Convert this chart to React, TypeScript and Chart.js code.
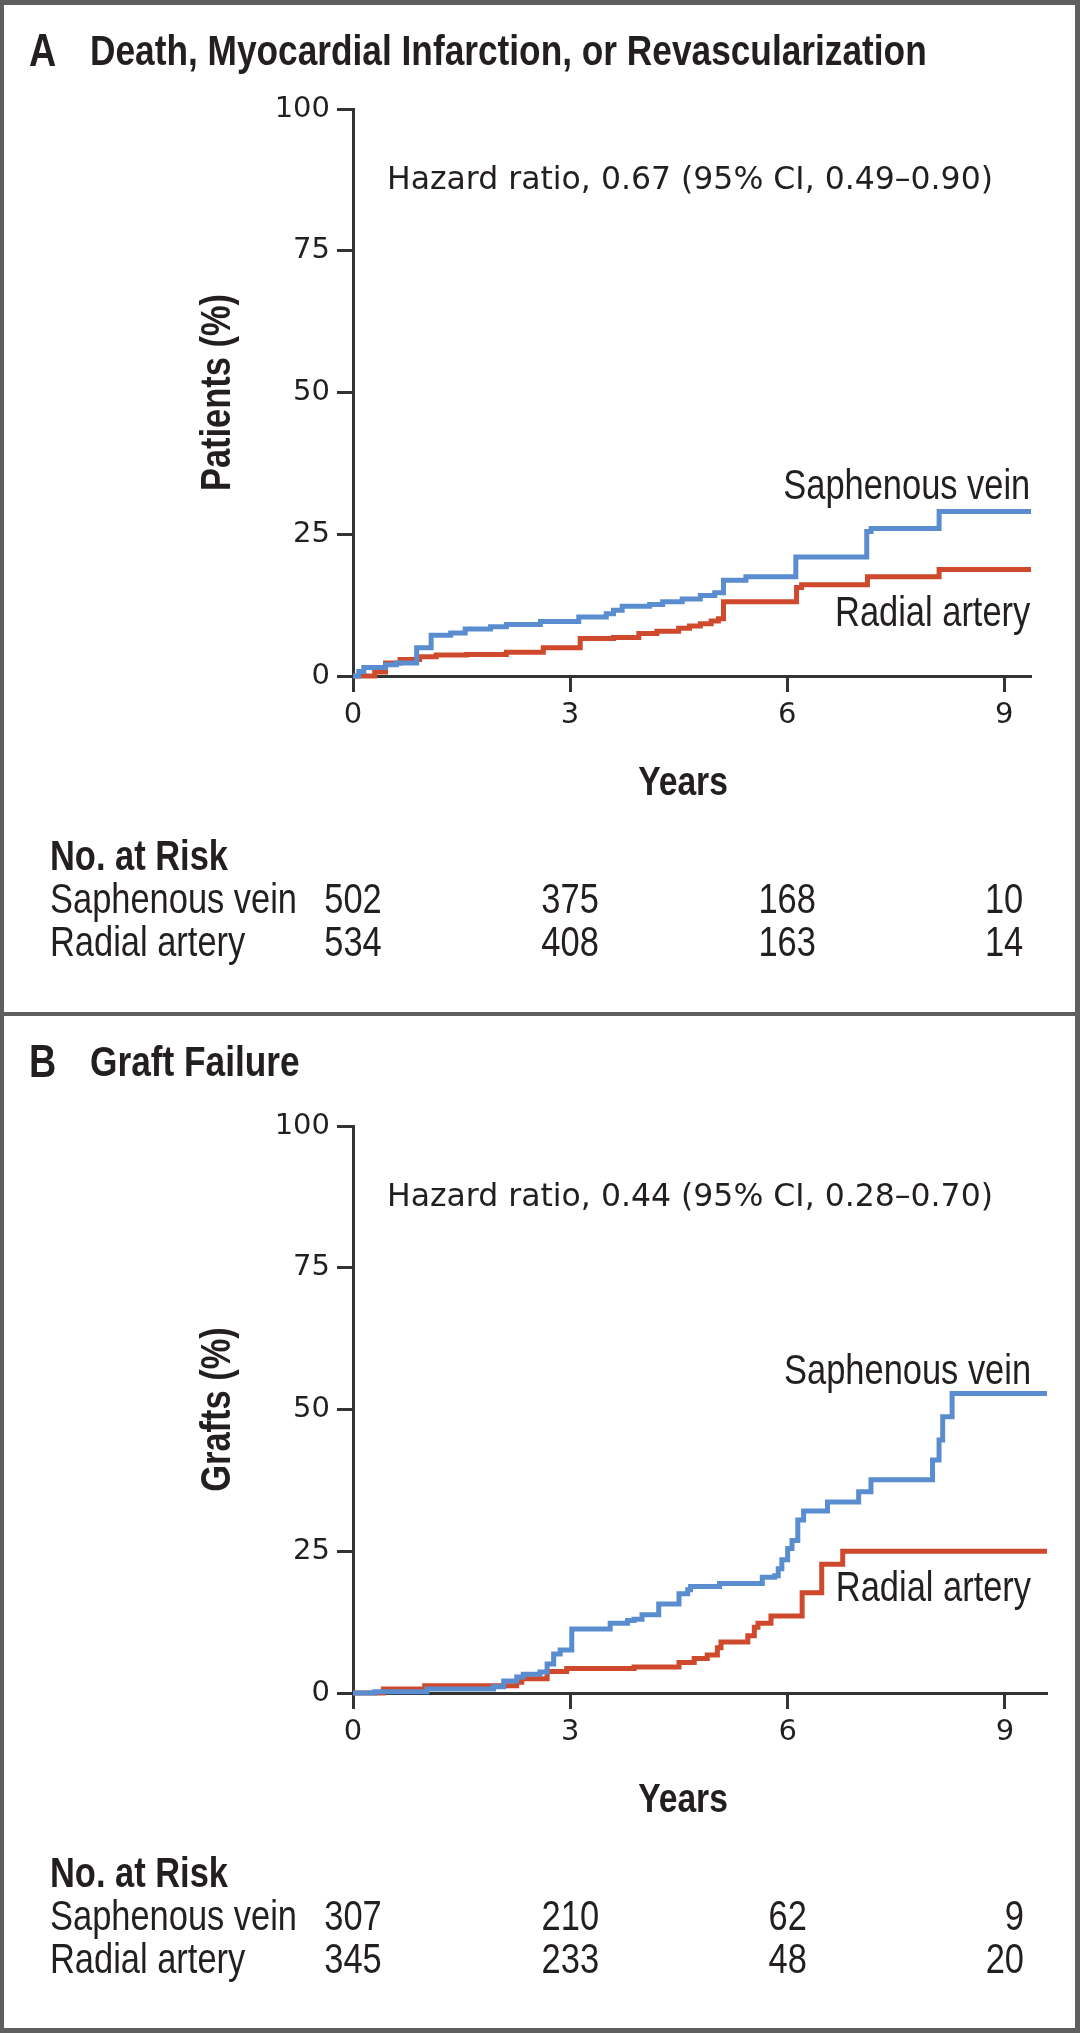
import React, { useEffect, useRef } from "react";
import { Chart, registerables } from "chart.js";

Chart.register(...registerables);

// ---------------- data ----------------
const xTicks = [0, 3, 6, 9];
const yTicks = [0, 25, 50, 75, 100];

// Panel A: death, MI, or revascularization (cumulative %)
const aSaphenousTimes = [0, 0.08, 0.15, 0.45, 0.6, 0.88, 1.08, 1.35, 1.55, 1.9, 2.12, 2.59, 3.12, 3.5, 3.6, 3.72, 4.1, 4.28, 4.55, 4.8, 5.0, 5.12, 5.43, 6.12, 7.1, 7.16, 8.1, 9.37];
const aSaphenousValues = [0, 0.8, 1.5, 2.0, 2.3, 5.0, 7.2, 7.6, 8.3, 8.7, 9.1, 9.6, 10.4, 11.0, 11.6, 12.3, 12.6, 13.1, 13.6, 14.2, 14.7, 16.9, 17.5, 21.0, 25.5, 26.0, 29.0, 29.0];
const aRadialTimes = [0, 0.3, 0.45, 0.65, 0.92, 1.15, 1.57, 2.12, 2.63, 3.14, 3.6, 3.95, 4.2, 4.5, 4.65, 4.8, 4.95, 5.05, 5.12, 6.13, 6.2, 7.11, 8.1, 9.37];
const aRadialValues = [0, 0.7, 2.3, 2.9, 3.4, 3.7, 3.8, 4.2, 5.0, 6.6, 6.8, 7.5, 7.9, 8.4, 8.8, 9.2, 9.7, 10.1, 13.1, 15.6, 16.1, 17.5, 18.8, 18.8];

// Panel B: graft failure (cumulative %)
const bSaphenousTimes = [0, 0.3, 1.02, 1.94, 2.08, 2.26, 2.35, 2.58, 2.68, 2.77, 2.86, 3.02, 3.55, 3.79, 3.88, 3.99, 4.22, 4.5, 4.62, 4.66, 5.06, 5.65, 5.82, 5.87, 5.92, 6.0, 6.06, 6.14, 6.22, 6.55, 6.98, 7.15, 8.0, 8.09, 8.14, 8.27, 9.58];
const bSaphenousValues = [0, 0.2, 0.7, 1.1, 2.1, 2.8, 3.3, 3.7, 5.1, 6.9, 7.6, 11.3, 12.3, 12.8, 13.0, 13.8, 15.7, 17.5, 18.2, 18.8, 19.3, 20.4, 20.7, 21.9, 23.5, 25.5, 26.9, 30.5, 32.1, 33.7, 35.5, 37.6, 41.1, 44.6, 48.7, 52.8, 52.8];
const bRadialTimes = [0, 0.42, 0.99, 2.26, 2.33, 2.68, 2.95, 3.88, 4.5, 4.71, 4.89, 5.03, 5.08, 5.45, 5.54, 5.59, 5.77, 6.2, 6.47, 6.76, 9.58];
const bRadialValues = [0, 0.7, 1.3, 1.9, 2.5, 3.8, 4.3, 4.6, 5.4, 6.1, 6.7, 8.0, 9.0, 10.1, 11.6, 12.3, 13.6, 17.7, 22.7, 25.0, 25.0];

// numbers at risk (at years 0, 3, 6, 9)
const aRiskSaphenous = ["502", "375", "168", "10"];
const aRiskRadial = ["534", "408", "163", "14"];
const bRiskSaphenous = ["307", "210", "62", "9"];
const bRiskRadial = ["345", "233", "48", "20"];

const seriesNames = ["Saphenous vein", "Radial artery"];

// ---------------- styles ----------------
const BLUE = "#5a8dcf";
const RED = "#cf4a2d";
const AXIS = "#333333";
const TXT = "#231f20";
const FRAME = "#5f5f5f";
const CONDENSED = 0.82;
const CF = '"Liberation Sans", Arial, sans-serif';
const WF = '"DejaVu Sans", Verdana, sans-serif';

type Spec = {
  letter: string;
  title: string;
  hazard: string;
  yTitle: string;
  xMax: number;
  svT: number[];
  svV: number[];
  raT: number[];
  raV: number[];
  riskSv: string[];
  riskRa: string[];
  svLabel: [number, number];
  raLabel: [number, number];
  top: number;
  height: number;
  chartTop: number;
  chartBottom: number;
  chartRight: number;
};

const PANEL_LEFT = 4;
const PANEL_W = 1071;
const CHART_LEFT = 349;
const Y_W = 100;
const X_H = 100;

const panels: Spec[] = [
  {
    letter: "A",
    title: "Death, Myocardial Infarction, or Revascularization",
    hazard: "Hazard ratio, 0.67 (95% CI, 0.49\u20130.90)",
    yTitle: "Patients (%)",
    xMax: 9.37,
    svT: aSaphenousTimes,
    svV: aSaphenousValues,
    raT: aRadialTimes,
    raV: aRadialValues,
    riskSv: aRiskSaphenous,
    riskRa: aRiskRadial,
    svLabel: [9.36, 33.3],
    raLabel: [9.36, 10.8],
    top: 5,
    height: 1007,
    chartTop: 104,
    chartBottom: 671,
    chartRight: 1027,
  },
  {
    letter: "B",
    title: "Graft Failure",
    hazard: "Hazard ratio, 0.44 (95% CI, 0.28\u20130.70)",
    yTitle: "Grafts (%)",
    xMax: 9.58,
    svT: bSaphenousTimes,
    svV: bSaphenousValues,
    raT: bRadialTimes,
    raV: bRadialValues,
    riskSv: bRiskSaphenous,
    riskRa: bRiskRadial,
    svLabel: [9.36, 56.6],
    raLabel: [9.36, 18.2],
    top: 1016,
    height: 1012,
    chartTop: 110,
    chartBottom: 677,
    chartRight: 1043,
  },
];

function cText(
  ctx: CanvasRenderingContext2D,
  text: string,
  x: number,
  y: number,
  size: number,
  bold: boolean,
  align: CanvasTextAlign,
  rotate = 0
) {
  ctx.save();
  ctx.translate(x, y);
  if (rotate) ctx.rotate(rotate);
  ctx.scale(CONDENSED, 1);
  ctx.font = `${bold ? "bold " : ""}${size}px ${CF}`;
  ctx.textAlign = align;
  ctx.textBaseline = "middle";
  ctx.fillStyle = TXT;
  ctx.fillText(text, 0, 0);
  ctx.restore();
}

function makeTextPlugin(spec: Spec) {
  return {
    id: "panelText" + spec.letter,
    afterDraw(chart: any) {
      const ctx: CanvasRenderingContext2D = chart.ctx;
      const xs = chart.scales.x;
      const ys = chart.scales.y;
      const left = xs.getPixelForValue(0);
      const y0 = ys.getPixelForValue(0);

      // panel title
      cText(ctx, spec.letter, 25, 48, 46, true, "left");
      cText(ctx, spec.title, 86, 48, 43, true, "left");

      // hazard ratio
      ctx.save();
      ctx.font = `31.5px ${WF}`;
      ctx.fillStyle = TXT;
      ctx.textAlign = "left";
      ctx.textBaseline = "middle";
      ctx.fillText(spec.hazard, left + 34, y0 - 495);
      ctx.restore();

      // curve labels
      cText(ctx, seriesNames[0], xs.getPixelForValue(spec.svLabel[0]), ys.getPixelForValue(spec.svLabel[1]), 42, false, "right");
      cText(ctx, seriesNames[1], xs.getPixelForValue(spec.raLabel[0]), ys.getPixelForValue(spec.raLabel[1]), 42, false, "right");

      // axis titles
      cText(ctx, spec.yTitle, left - 135, ys.getPixelForValue(50), 42, true, "center", -Math.PI / 2);
      cText(ctx, "Years", left + 330, y0 + 108, 41, true, "center");

      // number at risk table
      cText(ctx, "No. at Risk", 46, y0 + 182, 42, true, "left");
      const rows: [string, string[], number][] = [
        [seriesNames[0], spec.riskSv, y0 + 225],
        [seriesNames[1], spec.riskRa, y0 + 268],
      ];
      for (const [name, vals, yy] of rows) {
        cText(ctx, name, 46, yy, 42, false, "left");
        vals.forEach((v, i) => {
          const px = xs.getPixelForValue(xTicks[i]);
          if (i === vals.length - 1) cText(ctx, v, px + 19, yy, 42, false, "right");
          else cText(ctx, v, px, yy, 42, false, "center");
        });
      }
    },
  };
}

function Panel({ spec }: { spec: Spec }) {
  const ref = useRef<HTMLCanvasElement | null>(null);
  useEffect(() => {
    const canvas = ref.current!;
    const toPts = (t: number[], v: number[]) => t.map((x, i) => ({ x, y: v[i] }));
    const chart = new Chart(canvas, {
      type: "line",
      data: {
        datasets: [
          {
            label: seriesNames[0],
            data: toPts(spec.svT, spec.svV),
            borderColor: BLUE,
            borderWidth: 5,
            stepped: true,
            pointRadius: 0,
            fill: false,
            clip: false,
          },
          {
            label: seriesNames[1],
            data: toPts(spec.raT, spec.raV),
            borderColor: RED,
            borderWidth: 5,
            stepped: true,
            pointRadius: 0,
            fill: false,
            clip: false,
          },
        ],
      },
      options: {
        animation: false,
        responsive: false,
        events: [],
        layout: {
          padding: {
            left: CHART_LEFT - Y_W,
            right: PANEL_W - spec.chartRight,
            top: spec.chartTop,
            bottom: spec.height - spec.chartBottom - X_H,
          },
        },
        plugins: {
          legend: { display: false },
          tooltip: { enabled: false },
        },
        scales: {
          x: {
            type: "linear",
            min: 0,
            max: spec.xMax,
            afterBuildTicks: (s: any) => {
              s.ticks = xTicks.map((v) => ({ value: v }));
            },
            afterFit: (s: any) => {
              s.height = X_H;
            },
            border: { display: true, color: AXIS, width: 3 },
            grid: {
              display: true,
              drawOnChartArea: false,
              drawTicks: true,
              tickLength: 16,
              tickWidth: 3,
              tickColor: AXIS,
            },
            ticks: {
              font: { family: WF, size: 29 },
              color: TXT,
              padding: 6,
              maxRotation: 0,
              autoSkip: false,
            },
          },
          y: {
            type: "linear",
            min: 0,
            max: 100,
            afterBuildTicks: (s: any) => {
              s.ticks = yTicks.map((v) => ({ value: v }));
            },
            afterFit: (s: any) => {
              s.width = Y_W;
            },
            border: { display: true, color: AXIS, width: 3 },
            grid: {
              display: true,
              drawOnChartArea: false,
              drawTicks: true,
              tickLength: 16,
              tickWidth: 3,
              tickColor: AXIS,
            },
            ticks: {
              font: { family: WF, size: 29 },
              color: TXT,
              padding: 7,
              autoSkip: false,
            },
          },
        },
      } as any,
      plugins: [makeTextPlugin(spec)],
    });
    return () => chart.destroy();
  }, [spec]);
  return (
    <div
      style={{
        position: "absolute",
        left: PANEL_LEFT,
        top: spec.top,
        width: PANEL_W,
        height: spec.height,
        background: "#ffffff",
      }}
    >
      <canvas ref={ref} width={PANEL_W} height={spec.height} style={{ display: "block" }} />
    </div>
  );
}

export default function App() {
  return (
    <div
      style={{
        position: "absolute",
        left: 0,
        top: 0,
        width: 1080,
        height: 2033,
        background: FRAME,
        overflow: "hidden",
      }}
    >
      {panels.map((p) => (
        <Panel key={p.letter} spec={p} />
      ))}
    </div>
  );
}
